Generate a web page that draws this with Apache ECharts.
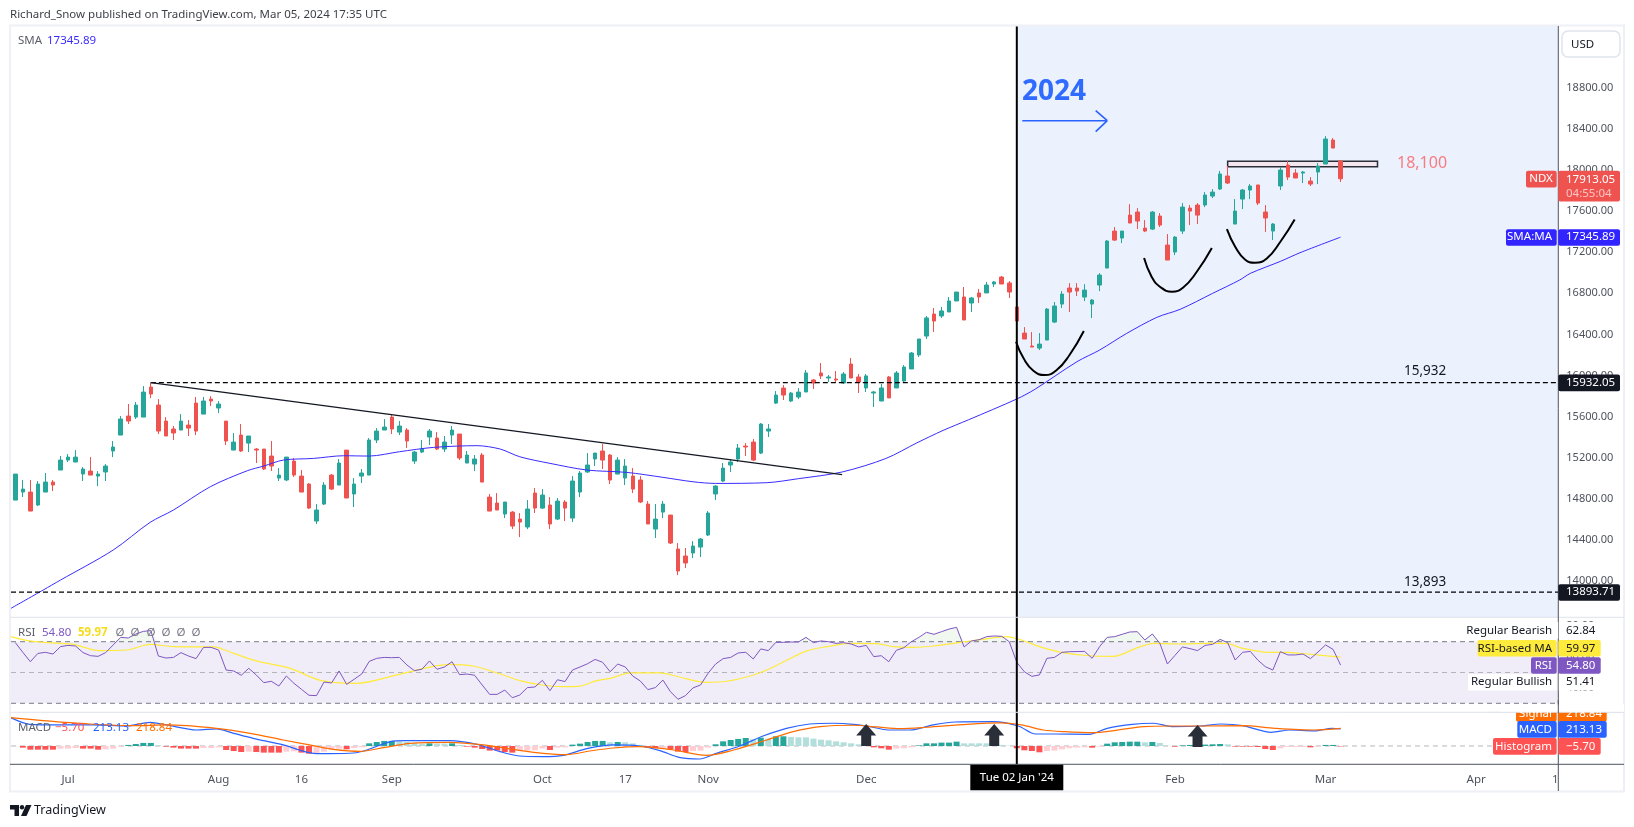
<!DOCTYPE html>
<html>
<head>
<meta charset="UTF-8">
<title>NDX</title>
<script src="https://cdn.jsdelivr.net/npm/echarts@6/dist/echarts.min.js"></script>
<style>
html,body{margin:0;padding:0;background:#fff;}
#main{width:1634px;height:827px;}
</style>
</head>
<body>
<div id="main"></div>
<script>
// candles, one per trading day
var candleOpen=[14789,14867,14867,14741,14867,14964,15081,15178,15159,15042,15071,15022,15062,15266,15421,15606,15596,15596,15888,15713,15557,15480,15470,15518,15732,15625,15771,15684,15557,15275,15421,15343,15285,15285,15217,15003,14984,15168,15022,14945,14585,14750,15032,14935,15275,14848,15022,15032,15373,15470,15596,15450,15470,15168,15256,15402,15392,15285,15421,15431,15149,15139,15227,14818,14760,14653,14672,14604,14527,14857,14711,14741,14604,14770,14614,14867,15062,15188,15266,15227,15042,15003,15022,14984,14750,14507,14672,14643,14313,14245,14274,14332,14449,14848,14974,15130,15188,15314,15353,15246,15460,15732,15878,15752,15791,15840,15957,16025,15976,15966,15927,16112,15986,15879,15830,15752,15986,15879,15947,16064,16200,16384,16598,16579,16618,16725,16764,16705,16803,16803,16890,16958,16900,16667,16413,16287,16267,16345,16520,16695,16851,16851,16763,16695,16880,17045,17405,17337,17560,17590,17434,17424,17551,17269,17201,17405,17628,17658,17658,17745,17814,17940,17473,17716,17804,17853,17590,17405,17843,18047,17969,17969,17891,17979,18057,18290,18086];
var candleClose=[15042,14896,14682,14945,14964,14935,15178,15207,15207,15091,15032,15042,15120,15305,15577,15557,15713,15839,15820,15460,15412,15441,15557,15489,15460,15752,15752,15723,15363,15353,15266,15412,15275,15091,15120,15032,15207,15032,14867,14711,14692,14935,14896,15149,14809,14945,15052,15373,15460,15499,15480,15509,15363,15256,15285,15460,15285,15353,15470,15198,15227,15188,14964,14682,14692,14770,14536,14575,14702,14711,14838,14556,14779,14711,14974,15052,15130,15246,15178,14984,15178,15120,14896,14770,14556,14604,14750,14371,14099,14177,14342,14410,14663,14925,15100,15159,15295,15305,15178,15528,15480,15810,15810,15830,15839,16025,15927,15996,15986,15957,16015,15976,15937,15996,15840,15879,15782,16025,16083,16219,16355,16560,16530,16628,16725,16812,16540,16754,16764,16880,16910,16890,16812,16530,16355,16277,16306,16646,16676,16792,16812,16821,16831,16734,16977,17308,17317,17405,17483,17502,17405,17590,17463,17123,17346,17638,17599,17560,17755,17784,17960,17872,17599,17804,17843,17677,17532,17473,17998,17930,17921,17979,17862,18037,18300,18212,17913.05];
var candleLow=[14789,14818,14682,14731,14867,14877,15081,15159,15159,14974,15032,14925,14974,15207,15421,15528,15577,15596,15781,15431,15412,15373,15470,15412,15421,15625,15703,15635,15324,15275,15256,15256,15149,15081,15071,14974,14974,15013,14867,14702,14556,14741,14886,14935,14809,14721,14954,15032,15343,15470,15431,15421,15295,15139,15246,15324,15275,15256,15334,15178,15149,15071,14964,14682,14692,14614,14507,14429,14507,14663,14702,14507,14595,14585,14575,14818,15052,15120,15091,14945,15042,14935,14857,14760,14556,14420,14614,14361,14060,14128,14225,14235,14439,14789,14964,15062,15159,15217,15168,15236,15402,15723,15762,15742,15771,15840,15869,15966,15937,15937,15918,15976,15830,15840,15694,15752,15782,15879,15937,16064,16180,16355,16423,16560,16618,16725,16540,16618,16705,16803,16861,16890,16754,16453,16355,16277,16248,16345,16510,16656,16617,16773,16724,16559,16821,17045,17308,17288,17483,17424,17395,17415,17444,17123,17171,17376,17463,17473,17638,17726,17804,17862,17473,17619,17716,17658,17396,17318,17804,17901,17921,17872,17843,17862,18057,18212,17882];
var candleHigh=[15042,14984,14984,14974,15052,14984,15217,15236,15275,15110,15207,15071,15139,15363,15606,15723,15742,15898,15932,15771,15596,15509,15625,15567,15791,15791,15800,15752,15557,15441,15528,15412,15295,15285,15363,15100,15207,15198,15081,14954,14750,14964,15042,15188,15275,15003,15091,15392,15489,15577,15616,15557,15489,15266,15373,15480,15450,15412,15509,15431,15266,15227,15246,14848,14857,14770,14682,14663,14789,14906,14896,14818,14809,14789,15022,15071,15246,15246,15334,15236,15207,15188,15100,15022,14779,14750,14779,14643,14371,14323,14390,14420,14682,14935,15149,15188,15334,15343,15382,15538,15528,15849,15907,15839,15878,16054,15966,16122,16005,16044,16034,16170,16015,16015,15850,15918,15996,16044,16102,16229,16355,16579,16657,16667,16764,16812,16861,16764,16842,16910,16919,16968,16919,16686,16471,16423,16413,16656,16715,16821,16899,16899,16889,16744,16996,17317,17444,17405,17667,17628,17512,17599,17580,17376,17356,17677,17658,17677,17784,17813,17989,18037,17716,17814,17862,17853,17658,17483,18028,18086,18008,17989,17930,18066,18329,18310,18096];

// 50 day SMA, sampled along the line
var smaIdx=[-0.6,3.7,6,13,17.9,21,25.9,30.8,33,35.6,39.6,43.6,47,51,55.5,61.3,64.4,67,71,75.9,81.2,86,90,93,99.8,104,109.8,115.6,119.7,123.2,126.6,133,135.4,141,144,147.6,151.6,154.7,159,162.6,164,168,170.6,176];
var smaVal=[13735,13914,14011,14303,14572,14692,14919,15074,15120,15178,15194,15220,15217,15259,15301,15318,15285,15210,15146,15081,15058,15010,14967,14951,14958,14997,15062,15193,15344,15466,15570,15772,15866,16135,16248,16410,16566,16644,16799,16929,16993,17110,17194,17345.89];

var levelTop=15932, levelLow=13893, levelLast=17913.05;
var trendFrom=[18,15932], trendTo=[109.8,15036];
var boxRange=[[161,18083],[180.9,18031]];
var cup1Idx=[132.9,133.9,135.2,136.7,138.3,140,141.9], cup1Val=[16329,16167,16047,16005,16054,16200,16433];
var cup2Idx=[149.9,150.9,152,153.6,155.1,156.9,158.9], cup2Val=[17142,16961,16864,16815,16857,17009,17240];
var cup3Idx=[160.9,162,163.3,164.6,166.2,168,169.9], cup3Val=[17424,17253,17129,17097,17139,17301,17518];

var rsiValues=[69.4,63.1,57.0,62.4,63.1,62.0,66.8,67.6,67.2,62.9,60.9,60.5,62.9,67.9,72.8,72.4,75.0,76.7,77.2,60.7,59.4,59.8,62.9,60.7,59.0,66.3,66.3,64.6,51.6,51.0,48.2,52.7,48.4,43.4,44.3,41.2,47.7,43.0,39.1,35.2,35.0,43.8,43.2,51.0,42.3,45.6,49.0,57.2,59.2,59.8,59.6,59.8,54.9,51.2,52.1,57.5,52.1,53.6,57.0,48.6,49.0,48.2,41.9,35.8,35.8,38.6,33.6,35.4,
40.2,40.6,44.9,38.2,45.3,44.1,51.6,53.6,55.7,58.5,56.6,50.5,55.5,53.6,47.7,44.5,38.9,40.2,45.1,37.6,32.6,35.0,40.0,41.9,49.5,55.5,59.0,59.8,62.7,63.1,58.8,65.3,64.2,69.6,69.6,69.8,69.8,72.8,69.4,70.5,70.0,68.9,69.4,68.5,66.6,67.6,60.3,60.9,57.0,64.4,66.1,70.0,72.8,76.1,74.8,76.5,78.2,79.3,66.6,70.5,71.3,73.3,73.7,73.5,70.0,56.6,
50.5,47.5,48.4,59.2,59.8,63.1,63.5,63.6,63.7,59.2,66.8,72.8,73.3,74.8,76.3,76.5,71.1,75.0,68.9,55.5,61.1,66.6,65.5,64.2,67.6,68.3,71.5,69.4,58.1,63.1,63.7,58.1,53.8,51.6,63.5,61.4,61.4,62.0,59.0,63.3,67.9,65.0,54.8];
var rsiMaIdx=[-0.6,1.9,5.9,7.7,11.2,14.8,17.9,21,26.3,29,32,36.5,40.5,45.3,51,57.7,60.8,64.4,67,70,72.7,75,77.2,79,81.7,85.7,88.3,91.8,94.5,97.6,99.8,102.5,105.1,107.8,110.9,114.4,116.6,119.3,122,125.5,128.1,131.6,133.6,136,138.9,143.1,145.9,148.8,151.2,154.5,158.3,160.7,163,166.4,168.7,171.6,176];
var rsiMaVal=[73.3,70.5,68.9,68.3,64.2,64.6,68.3,66.8,66.6,62.4,57.5,52.7,44.9,43.0,48.8,55.3,54.2,49.0,44.7,41.9,40.8,41.2,44.7,46.2,49.7,49.7,46.9,43.6,44.3,47.7,51.6,58.1,64.0,66.8,68.9,68.7,66.8,66.3,67.2,69.6,71.3,73.3,71.1,66.8,63.1,60.7,60.5,65.7,68.9,68.5,68.9,68.9,65.7,63.1,63.1,62.0,59.97];

var macdIdx=[-0.6,1.9,5.9,10.4,14.8,17.9,20.1,24.1,26.7,29,31.6,35.6,39.6,41.8,44.9,46.7,49.8,51.7,57.7,61.3,64.4,66.9,70.1,72.8,75.9,79.4,82.9,85.6,88.3,90.9,93.1,96.2,99.3,102.4,105.5,108.6,111.3,113.5,115.9,118.8,121.9,124.8,129.9,133.2,135.5,137.9,142.6,145,148.3,151.2,153.6,157.4,160.2,163,166.8,169.2,172.5,174.9,176];
var macdVal=[354,271,263,263,250,296,263,200,213,158,96,13,-92,-96,-88,-50,54,67,67,21,-71,-125,-133,-117,-33,13,0,-58,-146,-163,-92,0,125,221,275,284,271,242,200,200,263,300,304,250,150,150,146,221,271,284,242,250,275,254,171,200,188,221,213.13];
var signalIdx=[-0.6,3.7,9.9,15.7,20.1,26.7,31.2,35.6,39.6,42.2,45.8,48.9,52.4,57.7,62.2,66.9,70.1,73.2,76.3,79.4,82.9,87.4,91.8,95.4,99.8,103.3,106.9,111.3,114.4,117.5,121,126.4,130.8,133.6,136.5,139.3,143.1,145.9,149.8,153.6,157.4,163,167.3,172.5,176];
var signalVal=[354,317,275,254,263,221,158,75,4,-42,-67,-21,33,46,13,-54,-92,-108,-63,-25,-8,-50,-117,-50,75,179,242,259,238,217,234,271,288,263,200,179,167,192,242,250,250,254,221,200,218.84];
var histValues=[-4,-21,-46,-46,-46,-46,-33,-33,-25,-33,-33,-46,-42,-33,-8,13,25,38,38,8,-8,-21,-33,-33,-33,-25,-25,-17,-50,-63,-75,-71,-75,-83,-83,-83,-71,-67,-83,-96,-92,-71,-50,-33,-42,-25,-17,33,50,63,63,58,50,38,29,33,29,29,33,13,-8,-21,-38,-58,-58,-75,-83,-63,-58,-54,-33,-50,-21,-17,17,29,50,63,63,46,50,46,33,13,-21,-29,-25,-42,-71,-75,-63,-58,-21,21,58,75,88,100,83,104,92,121,121,113,108,108,92,79,71,58,46,33,21,13,-17,-29,-46,-33,-29,-17,8,33,33,42,42,54,33,33,33,33,29,13,4,-29,-54,-63,-79,-63,-58,-42,-29,-21,-17,-21,-8,29,46,50,54,54,46,50,38,4,-8,8,13,13,17,21,25,21,-8,-8,-8,-13,-38,-50,-29,-13,-13,-13,-17,-8,13,13,-5.7];
var arrowIdx=[113,130,157], arrowVal=[137,137,125];

var priceTicks=[14000,14400,14800,15200,15600,16000,16400,16800,17200,17600,18000,18400,18800];
var rsiTicks=[40,60,80];
var dateTickIdx=[7,27,38,50,70,81,92,113,154,174,194,204.5];
var dateTickText=['Jul','Aug','16','Sep','Oct','17','Nov','Dec','Feb','Mar','Apr','1'];
var crossIdx=133, xMin=-0.571, xMax=204.91;

var uiFont='"Noto Sans"';
var upColor='#26a69a', downColor='#ef5350';

var chart=echarts.init(document.getElementById('main'),null,{renderer:'canvas'});

function pairs(a,b){
	return a.map(function(v,i){return [v,b[i]];});
}
function plainLine(name,data,color,width,grid,opt){
	var s={
		name:name,type:'line',data:data,xAxisIndex:grid,yAxisIndex:grid,
		showSymbol:false,silent:true,animation:false,
		lineStyle:{color:color,width:width},z:4
	};
	for(var k in opt)s[k]=opt[k];
	return s;
}
function histColor(i){
	var v=histValues[i],j=i;
	// same value as the day before keeps that day's tone
	while(j>0&&histValues[j-1]==histValues[j])j--;
	var rising=j==0?true:histValues[j]>histValues[j-1];
	if(v>=0)return rising?'#26a69a':'#b2dfdb';
	return rising?'#ffcdd2':'#ff5252';
}

var candleData=candleOpen.map(function(o,i){
	return [i,o,candleClose[i],candleLow[i],candleHigh[i]];
});
var series=[
	// 2024 shading
	plainLine('shade',[],'#000',0,0,{z:1,markArea:{silent:true,itemStyle:{color:'#ebf1fd'},data:[[{coord:[crossIdx,13649]},{coord:[xMax,19399]}]]}}),
	plainLine('box',[],'#000',0,0,{z:2,markArea:{silent:true,itemStyle:{color:'#f3e6ef',borderColor:'#2a2e39',borderWidth:1.5},data:[[{coord:boxRange[0]},{coord:boxRange[1]}]]}}),
	{
		name:'NDX',type:'candlestick',data:candleData,xAxisIndex:0,yAxisIndex:0,
		encode:{x:0,y:[1,2,3,4]},barWidth:4,silent:true,animation:false,z:3,
		itemStyle:{color:upColor,color0:downColor,borderColor:upColor,borderColor0:downColor,borderWidth:1}
	},
	plainLine('SMA',pairs(smaIdx,smaVal),'#3a2bff',1,0,{smooth:0.3}),
	plainLine('top',[[18,levelTop],[xMax,levelTop]],'#000',1.3,0,{lineStyle:{color:'#000',width:1.3,type:[5,3]}}),
	plainLine('low',[[xMin,levelLow],[xMax,levelLow]],'#000',1.3,0,{lineStyle:{color:'#000',width:1.3,type:[5,3]}}),
	plainLine('trend',[trendFrom,trendTo],'#131722',1.3,0),
	plainLine('cup1',pairs(cup1Idx,cup1Val),'#000',2,0,{smooth:0.5}),
	plainLine('cup2',pairs(cup2Idx,cup2Val),'#000',2,0,{smooth:0.5}),
	plainLine('cup3',pairs(cup3Idx,cup3Val),'#000',2,0,{smooth:0.5}),
	plainLine('cross0',[[crossIdx,13649],[crossIdx,19399]],'#000',2,0,{z:6}),
	// rsi
	plainLine('band',[],'#000',0,1,{z:1,markArea:{silent:true,itemStyle:{color:'#f0edf8'},data:[[{coord:[xMin,30]},{coord:[xMax,70]}]]}}),
	plainLine('over',rsiValues.map(function(v,i){return [i,Math.max(v,70)];}),'#000',0,1,{z:2,lineStyle:{width:0,opacity:0},areaStyle:{origin:70,color:'rgba(76,175,80,0.12)'}}),
	plainLine('r70',[[xMin,70],[xMax,70]],'#787b86',1,1,{z:2,lineStyle:{color:'#787b86',width:1,type:[5,4]}}),
	plainLine('r50',[[xMin,50],[xMax,50]],'#b4b5bb',1,1,{z:2,lineStyle:{color:'#b4b5bb',width:1,type:[5,4]}}),
	plainLine('r30',[[xMin,30],[xMax,30]],'#787b86',1,1,{z:2,lineStyle:{color:'#787b86',width:1,type:[5,4]}}),
	plainLine('rsiMa',pairs(rsiMaIdx,rsiMaVal),'#ffeb3b',1.2,1,{smooth:0.3}),
	plainLine('rsi',rsiValues.map(function(v,i){return [i,v];}),'#7e57c2',1,1),
	plainLine('cross1',[[crossIdx,24],[crossIdx,86]],'#000',2,1,{z:6}),
	// macd
	plainLine('m0',[[xMin,0],[xMax,0]],'#b4b5bb',1,2,{z:1,lineStyle:{color:'#b4b5bb',width:1,type:[5,4]}}),
	{
		name:'Histogram',type:'bar',xAxisIndex:2,yAxisIndex:2,barWidth:6,silent:true,animation:false,z:2,
		data:histValues.map(function(v,i){return {value:[i,v],itemStyle:{color:histColor(i)}};})
	},
	plainLine('signal',pairs(signalIdx,signalVal),'#ff6d00',1.2,2,{smooth:0.3,z:4}),
	plainLine('macd',pairs(macdIdx,macdVal),'#2962ff',1.2,2,{smooth:0.3,z:3}),
	{
		name:'arrows',type:'scatter',xAxisIndex:2,yAxisIndex:2,silent:true,animation:false,z:5,
		data:pairs(arrowIdx,arrowVal),
		symbol:'path://M10 0 L20 12 L15 12 L15 23 L5 23 L5 12 L0 12 Z',symbolSize:[20,22],
		itemStyle:{color:'#2a2e39',opacity:1}
	},
	plainLine('cross2',[[crossIdx,-229],[crossIdx,421]],'#000',2,2,{z:6})
];

function xAxisOf(grid,showIt){
	return {
		type:'value',gridIndex:grid,min:xMin,max:xMax,show:showIt,
		axisLine:{show:false},axisTick:{show:false},splitLine:{show:false},
		axisLabel:{
			customValues:dateTickIdx,margin:9,color:'#4e525d',fontFamily:uiFont,fontSize:11.5,
			formatter:function(v){var i=dateTickIdx.indexOf(v);return i<0?'':dateTickText[i];}
		}
	};
}
function yAxisOf(grid,mn,mx,ticks){
	return {
		type:'value',gridIndex:grid,position:'right',min:mn,max:mx,show:!!ticks,
		axisLine:{show:false},axisTick:{show:false},splitLine:{show:false},
		axisLabel:{
			customValues:ticks||[],margin:8,color:'#4e525d',fontFamily:uiFont,fontSize:11,
			formatter:function(v){return v.toFixed(2);}
		}
	};
}
chart.setOption({
	animation:false,
	backgroundColor:'#fff',
	grid:[
		{left:11,width:1547.3,top:26,height:591.3},
		{left:11,width:1547.3,top:617.3,height:95},
		{left:11,width:1547.3,top:712.3,height:52}
	],
	xAxis:[xAxisOf(0,false),xAxisOf(1,false),xAxisOf(2,true)],
	yAxis:[yAxisOf(0,13649,19399,priceTicks),yAxisOf(1,24.16,85.84,rsiTicks),yAxisOf(2,-229,421,null)],
	series:series
});

// overlay: frame, pane lines, texts and the price tags
function txt(x,y,s,color,size,opt){
	var st={text:s,x:x,y:y,fill:color,fontSize:size,fontFamily:uiFont,verticalAlign:'middle',align:'left'};
	for(var k in opt)st[k]=opt[k];
	return {type:'text',z:60,silent:true,style:st};
}
function box(x,y,w,h,color,r,z){
	return {type:'rect',z:z||50,silent:true,shape:{x:x,y:y,width:w,height:h,r:r||0},style:{fill:color}};
}
function seg(x1,y1,x2,y2,color,w,z){
	return {type:'line',z:z||40,silent:true,shape:{x1:x1,y1:y1,x2:x2,y2:y2},style:{stroke:color,lineWidth:w}};
}
// one tag = left label + right value, at the y of a value on that pane's scale
function tag(y,label,labelLeft,value,color,textColor,right){
	var h=16.6,out=[];
	if(label)out.push(box(labelLeft,y-h/2,1556.7-labelLeft,h,color,2),txt(1552,y,label,textColor,11.5,{align:'right'}));
	out.push(box(1558.3,y-h/2,right-1558.3,h,color,2),txt(1566,y,value,textColor,11.5));
	return out;
}
var yP=function(v){return chart.convertToPixel({yAxisIndex:0},v);};
var yLast=yP(levelLast),ySma=yP(smaVal[smaVal.length-1]),yTop=yP(levelTop),yLow=yP(levelLow);
var crossX=chart.convertToPixel({xAxisIndex:2},crossIdx);

var gfx=[
	// frame
	{type:'rect',z:30,silent:true,shape:{x:10,y:25.5,width:1614,height:766},style:{fill:'none',stroke:'#eef0f6',lineWidth:2}},
	seg(10,617.3,1624,617.3,'#e0e3eb',1),
	seg(10,712.3,1624,712.3,'#e0e3eb',1),
	seg(10,764.3,1624,764.3,'#50535e',1),
	seg(1558.3,26,1558.3,791,'#50535e',1),
	// header, legend
	txt(10,15,'Richard_Snow published on TradingView.com, Mar 05, 2024 17:35 UTC','#3c3f48',11.5),
	txt(18,41,'SMA','#5d606b',11.5),
	txt(47,41,'17345.89','#3a2bff',11.5),
	txt(18,632.7,'RSI','#5d606b',11.5),
	txt(42,632.7,'54.80','#7e57c2',11.5),
	txt(78,632.7,'59.97','#f5dc1e',11.5,{fontWeight:'bold'}),
	txt(115.5,632.7,'Ø','#787b86',11.5),txt(130.5,632.7,'Ø','#787b86',11.5),txt(146.5,632.7,'Ø','#787b86',11.5),
	txt(161.5,632.7,'Ø','#787b86',11.5),txt(176.5,632.7,'Ø','#787b86',11.5),txt(191.5,632.7,'Ø','#787b86',11.5),
	txt(18,727.7,'MACD','#5d606b',11.5),
	txt(55,727.7,'−5.70','#ff5252',11.5),
	txt(93,727.7,'213.13','#2962ff',11.5),
	txt(136,727.7,'218.84','#ff6d00',11.5),
	// annotations
	txt(1022,92.5,'2024','#2f6bff',28,{fontWeight:'bold'}),
	seg(1022.3,120.7,1107,120.7,'#2962ff',1.6,45),
	seg(1095.7,110.7,1107.3,120.7,'#2962ff',1.6,45),
	seg(1095.7,131.7,1107.3,120.7,'#2962ff',1.6,45),
	txt(1397,163,'18,100','#f77c80',16),
	txt(1404,371,'15,932','#131722',13.5),
	txt(1404,582,'13,893','#131722',13.5),
	// USD box
	{type:'rect',z:50,silent:true,shape:{x:1562,y:31,width:58,height:26,r:6},style:{fill:'#fff',stroke:'#e0e3eb',lineWidth:1.5}},
	txt(1571,44.7,'USD','#131722',11.5),
	// price tags
	box(1526,yLast-8,30.7,16.6,'#ef5350',2),
	txt(1541,yLast,'NDX','#fff',11.5,{align:'center'}),
	box(1558.3,yLast-8,61.7,30.7,'#ef5350',2),
	txt(1566,yLast+1,'17913.05','#fff',11.5),
	txt(1566,yLast+15,'04:55:04','#f9c5c4',11.5),
	box(1506,ySma-8,50.7,16.6,'#3124ff',2),
	txt(1552,ySma,'SMA:MA','#fff',11.5,{align:'right'}),
	box(1558.3,ySma-8,61.7,16.6,'#3124ff',2),
	txt(1566,ySma,'17345.89','#fff',11.5),
	box(1558.3,yTop-8,61.7,16.6,'#131722',2),
	txt(1566,yTop,'15932.05','#fff',11.5),
	box(1558.3,yLow-8,61.7,16.6,'#131722',2),
	txt(1566,yLow,'13893.71','#fff',11.5),
	// date under the cross line
	box(crossX-46.5,764.8,93,25.5,'#000'),
	txt(crossX,778,"Tue 02 Jan '24",'#fff',11.5,{align:'center'})
];
gfx=gfx.concat(
	// Signal sits half out of its pane, so it is painted first and masked above
	tag(713.5,'Signal',1516,'218.84','#ff6d00','#fff',1606.7),
	[box(1500,704.5,124,7.4,'#fff',0,52),seg(1490,712.3,1624,712.3,'#e0e3eb',1,53),seg(1558.3,700,1558.3,713,'#50535e',1,53)],
	tag(729.4,'MACD',1517.3,'213.13','#2962ff','#fff',1606.7).map(function(e){e.z=e.z+10;return e;}),
	tag(746.4,'Histogram',1493,'−5.70','#ff5252','#fff',1600.7).map(function(e){e.z=e.z+10;return e;}),
	[box(1470,622,88,16.6,'#fff',0,54),box(1558.8,622,42,16.6,'#fff',0,54),txt(1552,630.7,'Regular Bearish','#131722',11.5,{align:'right'}),txt(1566,630.7,'62.84','#131722',11.5)],
	[box(1477.5,640,79.2,16.6,'#ffeb3b',2,54),box(1558.3,640,42.4,16.6,'#ffeb3b',2,54),txt(1552,648.5,'RSI-based MA','#131722',11.5,{align:'right'}),txt(1566,648.5,'59.97','#131722',11.5)],
	[box(1531,657.2,25.7,16.6,'#7e57c2',2,54),box(1558.3,657.2,42.4,16.6,'#7e57c2',2,54),txt(1552,665.7,'RSI','#fff',11.5,{align:'right'}),txt(1566,665.7,'54.80','#fff',11.5)],
	[box(1468,674,88.7,16.6,'#fff',0,54),box(1558.8,674,42,16.6,'#fff',0,54),txt(1552,682,'Regular Bullish','#131722',11.5,{align:'right'}),txt(1566,682,'51.41','#131722',11.5)],
	// footer mark
	[
		{type:'polygon',z:60,silent:true,shape:{points:[[10,805],[19,805],[19,816],[14.5,816],[14.5,809.5],[10,809.5]]},style:{fill:'#131722'}},
		{type:'circle',z:60,silent:true,shape:{cx:22,cy:807.3,r:2.2},style:{fill:'#131722'}},
		{type:'polygon',z:60,silent:true,shape:{points:[[26,805],[31.5,805],[26.5,816],[21,816]]},style:{fill:'#131722'}},
		txt(34,810.5,'TradingView','#131722',12.5)
	]
);
chart.setOption({graphic:{elements:gfx}});
</script>
</body>
</html>
